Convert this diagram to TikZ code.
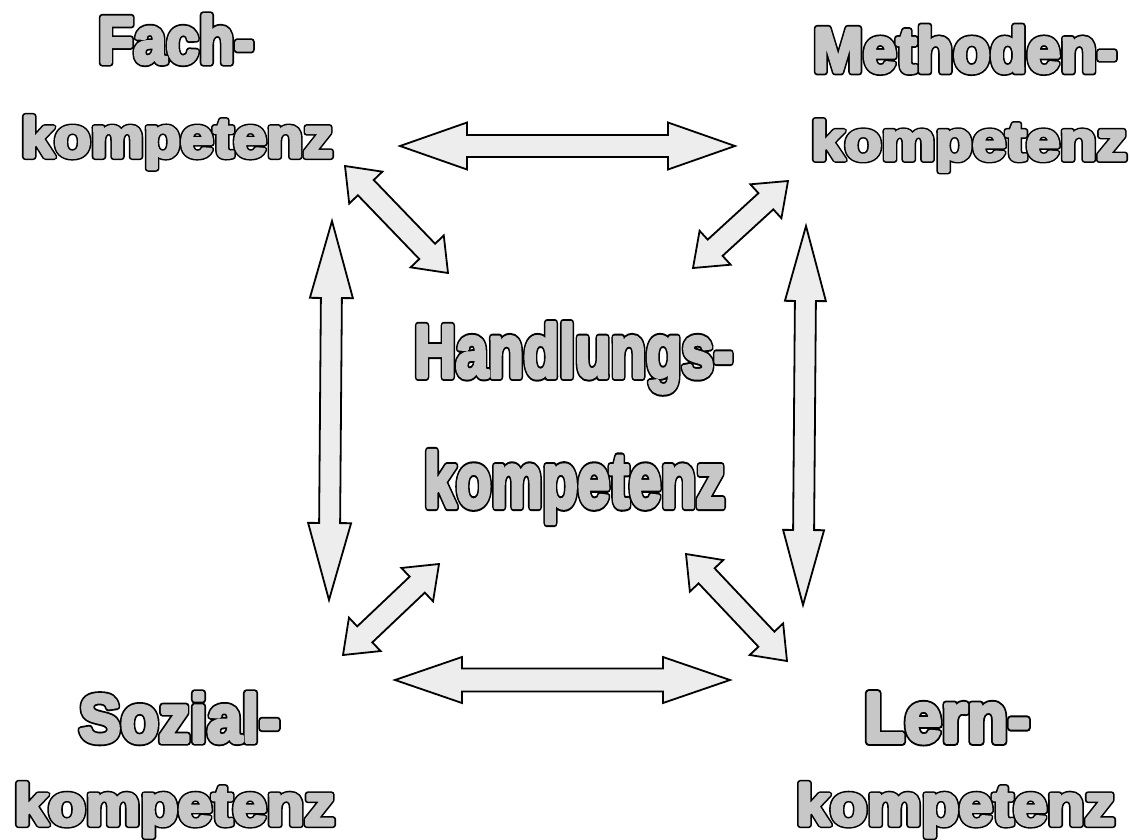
\documentclass[tikz,border=0pt]{standalone}
\usepackage{fontspec}
\setmainfont{Liberation Sans}
\newfontfamily\heavyfont{Liberation Sans Bold}
\usepackage{graphicx}
\usetikzlibrary{calc}

\definecolor{letterfill}{gray}{0.78}
\definecolor{arrowfill}{gray}{0.93}

% hollow lettering: a wide black stroke under a narrower grey stroke and fill,
% which gives heavy grey glyphs with a thin black contour
\newcommand\hollowtext[1]{%
  \rlap{\color{black}\special{pdf:literal direct 2 Tr 6.4 w 1 j 0 G}#1\special{pdf:literal direct 0 Tr}}%
  {\color{letterfill}\special{pdf:literal direct 2 Tr 3.2 w 1 j 0.78 G}#1\special{pdf:literal direct 0 Tr}}}
% word of given width and height (in pt)
\newcommand\word[3]{\resizebox{#1pt}{#2pt}{\heavyfont\fontsize{60}{60}\selectfont\hollowtext{#3}}}

% double-headed block arrow between two named points
% #1 style, #2 start, #3 end, #4 head length, #5 head half width, #6 shaft half width (pt)
\newcommand\blockarrow[6]{%
  \draw[#1] (#2)
    -- ($(#2)!#4pt!(#3)!#5pt!90:(#3)$)
    -- ($(#2)!#4pt!(#3)!#6pt!90:(#3)$)
    -- ($(#3)!#4pt!(#2)!#6pt!-90:(#2)$)
    -- ($(#3)!#4pt!(#2)!#5pt!-90:(#2)$)
    -- (#3)
    -- ($(#3)!#4pt!(#2)!#5pt!90:(#2)$)
    -- ($(#3)!#4pt!(#2)!#6pt!90:(#2)$)
    -- ($(#2)!#4pt!(#3)!#6pt!-90:(#3)$)
    -- ($(#2)!#4pt!(#3)!#5pt!-90:(#3)$)
    -- cycle;}

\tikzset{
  label/.style={anchor=base west, inner sep=0pt, outer sep=0pt},
  blockarrowstyle/.style={draw=black, line width=1.8pt, fill=arrowfill, line join=miter},
}

\begin{document}
\begin{tikzpicture}[x=1pt, y=-1pt]
\useasboundingbox (0,0) rectangle (1130,839);

% labels
\node[label] (fach)  at (98,63)   {\word{156}{48}{Fach-}};
\node[label] (fachk) at (21,157)  {\word{312}{41}{kompetenz}};
\node[label] (meth)  at (813,72)  {\word{304}{46}{Methoden-}};
\node[label] (methk) at (811,160) {\word{316}{40}{kompetenz}};
\node[label] (hand)  at (414,377) {\word{319}{54}{Handlungs-}};
\node[label] (handk) at (424,507) {\word{301}{56}{kompetenz}};
\node[label] (soz)   at (79,742)  {\word{201}{49}{Sozial-}};
\node[label] (sozk)  at (14,825)  {\word{321}{42}{kompetenz}};
\node[label] (lern)  at (864,742) {\word{166}{49}{Lern-}};
\node[label] (lernk) at (796,825) {\word{319}{42}{kompetenz}};

% arrow tips
\coordinate (topL) at (400,146);  \coordinate (topR) at (735,146);
\coordinate (botL) at (395,680);  \coordinate (botR) at (730,680);
\coordinate (lefT) at (332,221);  \coordinate (lefB) at (329,600);
\coordinate (rigT) at (806,226);  \coordinate (rigB) at (803,605);
\coordinate (fdA) at (345,166);   \coordinate (fdB) at (448,273);
\coordinate (mdA) at (788,181);   \coordinate (mdB) at (693,268);
\coordinate (sdA) at (439,564);   \coordinate (sdB) at (343,655);
\coordinate (ldA) at (686,554);   \coordinate (ldB) at (787,661);

% arrows
\blockarrow{blockarrowstyle}{topL}{topR}{67}{23.5}{11}
\blockarrow{blockarrowstyle}{botL}{botR}{67}{23}{11.5}
\blockarrow{blockarrowstyle}{lefT}{lefB}{77}{21.5}{10.5}
\blockarrow{blockarrowstyle}{rigT}{rigB}{75}{20.5}{10.5}
\blockarrow{blockarrowstyle}{fdA}{fdB}{30}{23}{11}
\blockarrow{blockarrowstyle}{mdA}{mdB}{30}{23}{11}
\blockarrow{blockarrowstyle}{sdA}{sdB}{30}{23}{11}
\blockarrow{blockarrowstyle}{ldA}{ldB}{30}{23}{11}
\end{tikzpicture}
\end{document}
